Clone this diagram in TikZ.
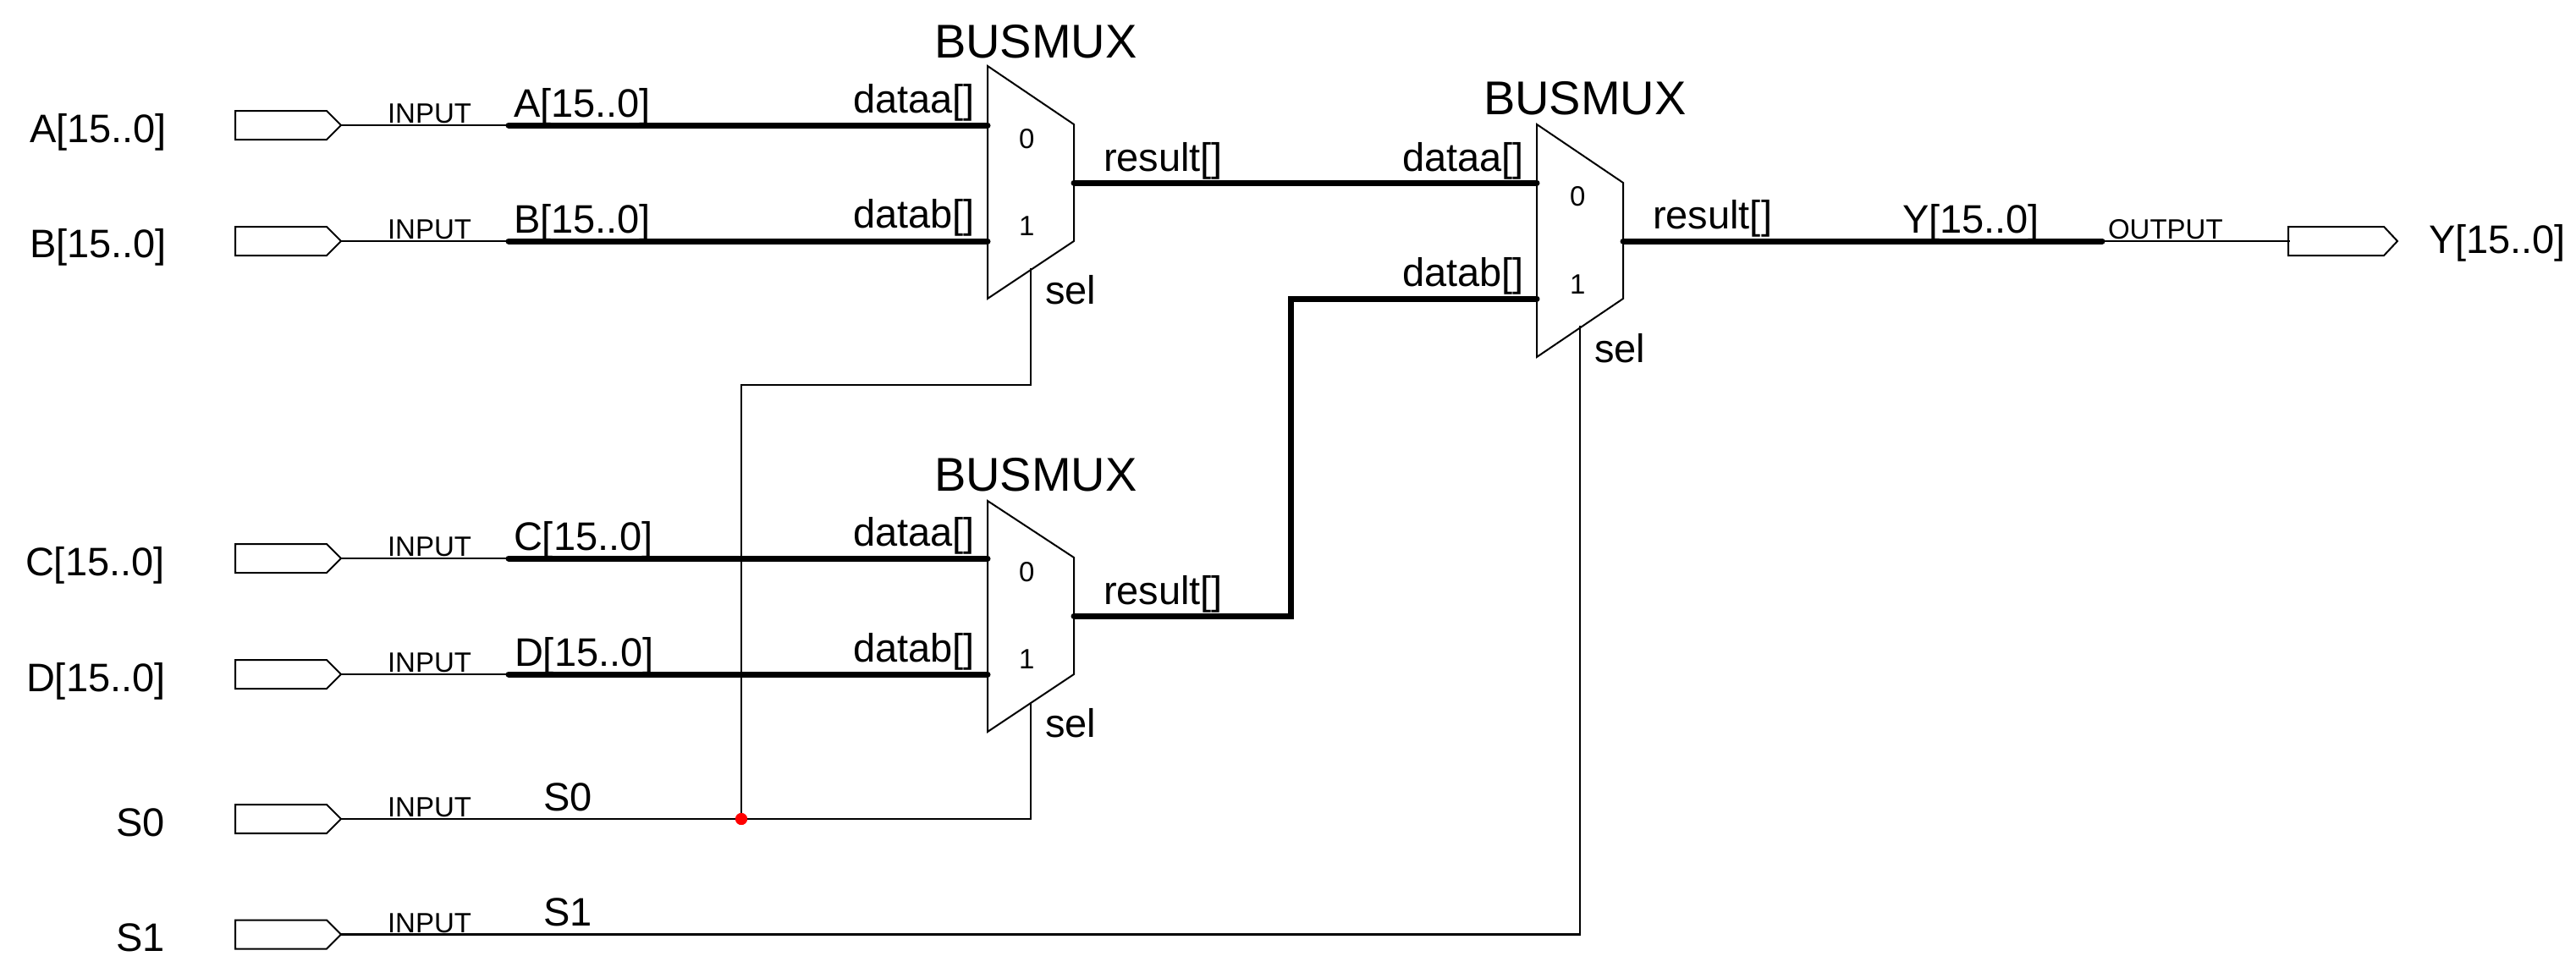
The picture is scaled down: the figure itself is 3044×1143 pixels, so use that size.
\documentclass[tikz,border=0pt]{standalone}
\usepackage{fontspec}
\setmainfont{Liberation Sans}
\tikzset{
  wire/.style={line width=2.2pt,black},
  bus/.style={line width=7pt,black,line cap=round,line join=miter},
  outline/.style={line width=2pt,black,line join=miter},
  lbl/.style={anchor=base west,inner sep=0pt,outer sep=0pt,font=\fontsize{47}{50}\selectfont},
  tag/.style={anchor=base west,inner sep=0pt,outer sep=0pt,font=\fontsize{33}{36}\selectfont},
  ttl/.style={anchor=base west,inner sep=0pt,outer sep=0pt,font=\fontsize{56}{60}\selectfont},
  junction/.style={circle,fill=red,draw=none,minimum size=14pt,inner sep=0pt}
}
% input pin: name, y of the wire
\newcommand{\inpin}[2]{%
  \coordinate (#1tip) at (403,#2);
  \coordinate (#1w) at (601,#2);
  \draw[outline] (278,#2-17) -- (386,#2-17) -- (#1tip) -- (386,#2+17) -- (278,#2+17) -- cycle;
}
% mux: name, x left, y top left, y right top, y right bottom, y left bottom, y a, y b, y result
\newcommand{\busmux}[9]{%
  \coordinate (#1a) at (#2,#7);
  \coordinate (#1b) at (#2,#8);
  \coordinate (#1r) at (#2+102,#9);
  \draw[outline] (#2,#3) -- (#2+102,#4) -- (#2+102,#5) -- (#2,#6) -- cycle;
}
\begin{document}
\begin{tikzpicture}[x=1pt,y=-1pt]
\useasboundingbox (0,0) rectangle (3044,1143);

% pins
\inpin{A}{148}
\inpin{B}{285}
\inpin{C}{660}
\inpin{D}{797}
\inpin{E}{968}
\inpin{F}{1104.5}

% muxes
\busmux{ma}{1167}{78}{147}{285}{353}{148}{285}{216}
\busmux{mb}{1816}{147}{216}{353}{422}{216}{353}{285}
\busmux{mc}{1167}{592}{659}{797}{865}{660}{797}{728}

\coordinate (masel) at (1218,317);
\coordinate (mcsel) at (1218,830);
\coordinate (mbsel) at (1867,385);
\coordinate (mbs1) at (1867,1104.5);
\coordinate (mcs0) at (1218,968);
\coordinate (mas0) at (1218,455);
\coordinate (js) at (876,455);
\node[junction] (j0) at (876,968) {};
\coordinate (bendtop) at (1525.5,353);
\coordinate (bendlow) at (1525.5,728);
\coordinate (yend) at (2484,285);
\coordinate (ypin) at (2706,285);
\coordinate (ytip) at (2833,285);

% thin wires
\foreach \p in {A,B,C,D} \draw[wire] (\p tip) -- (\p w);
\draw[wire] (Etip) -- (j0.center) -- (mcs0) -- (mcsel);
\draw[wire] (j0.center) -- (js) -- (mas0) -- (masel);
\draw[wire] (Ftip) -- (mbs1) -- (mbsel);
\draw[wire] (yend) -- (ypin);

% buses
\draw[bus] (Aw) -- (maa);
\draw[bus] (Bw) -- (mab);
\draw[bus] (Cw) -- (mca);
\draw[bus] (Dw) -- (mcb);
\draw[bus] (mar) -- (mba);
\draw[bus] (mcr) -- (bendlow) -- (bendtop) -- (mbb);
\draw[bus] (mbr) -- (yend);

% output pin
\draw[outline] (2704,268) -- (2817,268) -- (ytip) -- (2817,302) -- (2704,302) -- cycle;

\node[junction] at (j0) {};

% outer pin names
\node[lbl] (tA) at (35,168) {A[15..0]};
\node[lbl] (tB) at (35,304) {B[15..0]};
\node[lbl] (tC) at (30,680) {C[15..0]};
\node[lbl] (tD) at (31,817) {D[15..0]};
\node[lbl] (tE) at (137,988) {S0};
\node[lbl] (tF) at (137,1124.5) {S1};
\node[lbl] (tY) at (2870,299) {Y[15..0]};

% INPUT / OUTPUT tags
\node[tag] (iA) at (458,145) {INPUT};
\node[tag] (iB) at (458,282) {INPUT};
\node[tag] (iC) at (458,657) {INPUT};
\node[tag] (iD) at (458,794) {INPUT};
\node[tag] (iE) at (458,965) {INPUT};
\node[tag] (iF) at (458,1102) {INPUT};
\node[tag] (oY) at (2491,282) {OUTPUT};

% net names
\node[lbl] (nA) at (607,138) {A[15..0]};
\node[lbl] (nB) at (607,275) {B[15..0]};
\node[lbl] (nC) at (607,650) {C[15..0]};
\node[lbl] (nD) at (608,787) {D[15..0]};
\node[lbl] (nE) at (642,958) {S0};
\node[lbl] (nF) at (642,1094) {S1};
\node[lbl] (nY) at (2248,275) {Y[15..0]};

% mux titles
\node[ttl] (tma) at (1104,68) {BUSMUX};
\node[ttl] (tmb) at (1753,135) {BUSMUX};
\node[ttl] (tmc) at (1104,580) {BUSMUX};

% mux a
\node[lbl] (maA) at (1008,133) {dataa[]};
\node[lbl] (maB) at (1008,269) {datab[]};
\node[tag] (ma0) at (1204,175) {0};
\node[tag] (ma1) at (1204,278) {1};
\node[lbl] (maS) at (1235,359) {sel};
\node[lbl] (maR) at (1304,202) {result[]};
% mux b
\node[lbl] (mbA) at (1657,202) {dataa[]};
\node[lbl] (mbB) at (1657,338) {datab[]};
\node[tag] (mb0) at (1855,243) {0};
\node[tag] (mb1) at (1855,347) {1};
\node[lbl] (mbS) at (1884,428) {sel};
\node[lbl] (mbR) at (1953,270) {result[]};
% mux c
\node[lbl] (mcA) at (1008,645) {dataa[]};
\node[lbl] (mcB) at (1008,782) {datab[]};
\node[tag] (mc0) at (1204,687) {0};
\node[tag] (mc1) at (1204,790) {1};
\node[lbl] (mcS) at (1235,871) {sel};
\node[lbl] (mcR) at (1304,714) {result[]};
\end{tikzpicture}
\end{document}
